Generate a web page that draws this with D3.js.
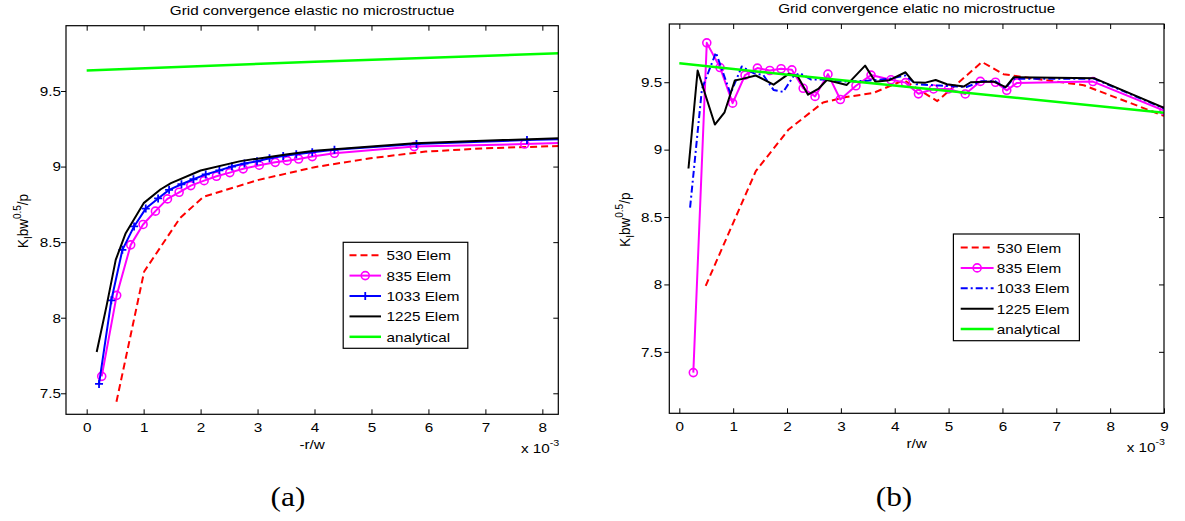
<!DOCTYPE html>
<html><head><meta charset="utf-8">
<script src="https://cdn.jsdelivr.net/npm/d3@7/dist/d3.min.js"></script>
<style>body{margin:0;background:#fff}svg{display:block}</style>
</head><body>
<svg id="c" width="1185" height="521"></svg>
<script>
// ---------- DATA (x in units of 10^-3) ----------
const seriesNames = ["530 Elem", "835 Elem", "1033 Elem", "1225 Elem", "analytical"];
const xTicksA = [0, 1, 2, 3, 4, 5, 6, 7, 8];
const xTicksB = [0, 1, 2, 3, 4, 5, 6, 7, 8, 9];
const yTicks = [7.5, 8, 8.5, 9, 9.5];

// (a) -r/w
const a530X = [0.523, 1.01, 1.64, 2.05, 3.02, 4.0, 4.98, 5.95, 6.93, 8.6];
const a530Y = [7.444, 8.306, 8.66, 8.80, 8.912, 8.996, 9.055, 9.099, 9.12, 9.14];
const a835X = [0.264, 0.527, 0.773, 0.99, 1.207, 1.418, 1.623, 1.828, 2.062, 2.279, 2.513, 2.747, 3.03, 3.31, 3.52, 3.72, 3.96, 4.35, 5.75, 7.69, 8.6];
const a835Y = [7.612, 8.148, 8.482, 8.617, 8.705, 8.786, 8.83, 8.874, 8.907, 8.936, 8.96, 8.985, 9.009, 9.028, 9.039, 9.05, 9.066, 9.088, 9.132, 9.149, 9.16];
const a1033X = [0.217, 0.433, 0.627, 0.832, 1.037, 1.254, 1.447, 1.664, 1.875, 2.09, 2.33, 2.55, 2.77, 2.99, 3.21, 3.45, 3.68, 3.96, 4.35, 5.79, 7.73, 8.6];
const a1033Y = [7.562, 8.115, 8.449, 8.604, 8.722, 8.789, 8.846, 8.883, 8.916, 8.948, 8.975, 9.0, 9.02, 9.035, 9.055, 9.07, 9.082, 9.095, 9.112, 9.149, 9.175, 9.185];
const a1225X = [0.176, 0.35, 0.51, 0.685, 1.0, 1.3, 1.48, 2.0, 2.7, 3.5, 4.0, 5.76, 8.6];
const a1225Y = [7.773, 8.08, 8.383, 8.559, 8.758, 8.85, 8.89, 8.974, 9.036, 9.08, 9.105, 9.155, 9.192];
const aAnaX = [0, 4, 8.6];
const aAnaY = [9.636, 9.693, 9.754];

// (b) r/w
const b530X = [0.49, 1.42, 2.03, 2.67, 3.1, 3.6, 4.17, 4.79, 5.62, 6.02, 6.71, 7.51, 9.0];
const b530Y = [7.99, 8.84, 9.15, 9.35, 9.39, 9.42, 9.515, 9.36, 9.65, 9.56, 9.52, 9.478, 9.25];
const b835X = [0.26, 0.51, 0.756, 0.99, 1.22, 1.45, 1.68, 1.89, 2.09, 2.30, 2.52, 2.76, 2.99, 3.28, 3.56, 3.93, 4.2, 4.44, 4.72, 5.0, 5.31, 5.59, 5.87, 6.08, 6.27, 7.68, 9.0];
const b835Y = [7.346, 9.792, 9.609, 9.345, 9.552, 9.605, 9.587, 9.6, 9.592, 9.455, 9.395, 9.56, 9.372, 9.474, 9.553, 9.518, 9.497, 9.414, 9.45, 9.45, 9.413, 9.506, 9.5, 9.44, 9.495, 9.505, 9.29];
const b1033X = [0.2, 0.42, 0.68, 0.95, 1.16, 1.38, 1.56, 1.75, 1.93, 2.12, 2.24, 2.45, 2.75, 3.05, 3.45, 3.9, 4.2, 4.4, 4.83, 5.33, 5.62, 5.87, 6.05, 6.2, 7.71, 9.0];
const b1033Y = [8.57, 9.45, 9.72, 9.415, 9.617, 9.567, 9.553, 9.443, 9.428, 9.545, 9.567, 9.52, 9.52, 9.505, 9.51, 9.525, 9.55, 9.485, 9.475, 9.465, 9.507, 9.507, 9.455, 9.525, 9.525, 9.305];
const b1225X = [0.17, 0.34, 0.66, 0.84, 1.03, 1.17, 1.42, 1.75, 2.03, 2.2, 2.39, 2.58, 2.74, 3.11, 3.45, 3.64, 3.9, 4.2, 4.35, 4.57, 4.76, 4.97, 5.28, 5.41, 5.84, 6.06, 6.21, 7.7, 9.0];
const b1225Y = [8.86, 9.587, 9.186, 9.277, 9.513, 9.525, 9.55, 9.482, 9.562, 9.543, 9.408, 9.45, 9.517, 9.48, 9.623, 9.503, 9.515, 9.574, 9.5, 9.497, 9.517, 9.485, 9.468, 9.5, 9.505, 9.463, 9.537, 9.53, 9.31];
const bAnaX = [0, 2.24, 9.0];
const bAnaY = [9.64, 9.547, 9.273];

// ---------- DRAWING ----------
const SX = 1.13;
const FONT = "'Liberation Sans', Arial, Helvetica, sans-serif";
const FS = 13.5;
const svg = d3.select("#c");
const defs = svg.append("defs");

function stext(g, x, y, str, size, anchor) {
  return g.append("text")
    .attr("transform", `translate(${x},${y}) scale(${SX},1)`)
    .attr("font-family", FONT).attr("font-size", size)
    .attr("text-anchor", anchor || "start").attr("fill", "#000").text(str);
}

function drawMarker(g, type, cx, cy, color) {
  if (type === "o") {
    g.append("circle").attr("cx", cx).attr("cy", cy).attr("r", 4)
      .attr("fill", "none").attr("stroke", color).attr("stroke-width", 1.6);
  } else if (type === "+") {
    g.append("path").attr("d", `M${cx - 4},${cy}H${cx + 4}M${cx},${cy - 4}V${cy + 4}`)
      .attr("stroke", color).attr("stroke-width", 1.8).attr("fill", "none");
  }
}

function drawChart(cfg) {
  const x = d3.scaleLinear().domain(cfg.xDomain).range([cfg.left, cfg.right]);
  const y = d3.scaleLinear().domain(cfg.yDomain).range([cfg.bottom, cfg.top]);
  const g = svg.append("g");
  const cid = "clip" + cfg.id;
  defs.append("clipPath").attr("id", cid).append("rect")
    .attr("x", cfg.left).attr("y", cfg.top)
    .attr("width", cfg.right - cfg.left).attr("height", cfg.bottom - cfg.top);

  // title
  stext(g, (cfg.left + cfg.right) / 2, cfg.titleY, cfg.title, FS, "middle");

  // series
  const pg = g.append("g").attr("clip-path", `url(#${cid})`);
  const line = d3.line().x(d => x(d[0])).y(d => y(d[1]));
  cfg.series.forEach(s => {
    const pts = s.x.map((v, i) => [v, s.y[i]]);
    pg.append("path").datum(pts).attr("d", line)
      .attr("fill", "none").attr("stroke", s.color).attr("stroke-width", s.width)
      .attr("stroke-linejoin", "round")
      .attr("stroke-dasharray", s.dash || null);
    if (s.marker) pts.forEach(p => drawMarker(pg, s.marker, x(p[0]), y(p[1]), s.color));
  });

  // frame
  g.append("rect").attr("x", cfg.left).attr("y", cfg.top)
    .attr("width", cfg.right - cfg.left).attr("height", cfg.bottom - cfg.top)
    .attr("fill", "none").attr("stroke", "#000").attr("stroke-width", 1.2);

  // bottom axis (inward ticks)
  const ax = g.append("g").attr("transform", `translate(0,${cfg.bottom})`)
    .call(d3.axisBottom(x).tickValues(cfg.xTicks).tickSize(-5).tickSizeOuter(0).tickFormat(d => String(d)));
  ax.select(".domain").remove();
  ax.selectAll(".tick line").attr("stroke", "#000");
  ax.selectAll(".tick text").attr("font-family", FONT).attr("font-size", FS)
    .attr("y", 8).attr("dy", "0.71em").attr("transform", `scale(${SX},1)`).attr("fill", "#000");
  // top axis ticks
  const axt = g.append("g").attr("transform", `translate(0,${cfg.top})`)
    .call(d3.axisBottom(x).tickValues(cfg.xTicks).tickSize(5).tickSizeOuter(0).tickFormat(""));
  axt.select(".domain").remove();
  axt.selectAll(".tick line").attr("stroke", "#000");
  // left axis (outward ticks)
  const ay = g.append("g").attr("transform", `translate(${cfg.left},0)`)
    .call(d3.axisLeft(y).tickValues(yTicks).tickSize(5).tickSizeOuter(0).tickFormat(d => String(d)));
  ay.select(".domain").remove();
  ay.selectAll(".tick line").attr("stroke", "#000");
  ay.selectAll(".tick text").attr("font-family", FONT).attr("font-size", FS)
    .attr("x", -cfg.yLabPad / SX).attr("transform", `scale(${SX},1)`).attr("fill", "#000");
  // right axis ticks (inward)
  const ayr = g.append("g").attr("transform", `translate(${cfg.right},0)`)
    .call(d3.axisLeft(y).tickValues(yTicks).tickSize(5).tickSizeOuter(0).tickFormat(""));
  ayr.select(".domain").remove();
  ayr.selectAll(".tick line").attr("stroke", "#000");

  // x label
  stext(g, (cfg.left + cfg.right) / 2, cfg.bottom + 35, cfg.xLabel, FS, "middle");
  // x 10^-3
  const ex = g.append("text")
    .attr("transform", `translate(${cfg.right + 1},${cfg.bottom + 39}) scale(${SX},1)`)
    .attr("font-family", FONT).attr("font-size", FS).attr("text-anchor", "end");
  ex.append("tspan").text("x 10");
  ex.append("tspan").attr("dy", -7).attr("font-size", 9.5).text("-3");

  // y label
  const yl = g.append("text")
    .attr("transform", `translate(${cfg.yLabX},${(cfg.top + cfg.bottom) / 2 + 1}) scale(${SX},1) rotate(-90)`)
    .attr("font-family", FONT).attr("font-size", FS).attr("text-anchor", "middle");
  yl.append("tspan").text("K");
  yl.append("tspan").attr("dy", 3.5).attr("font-size", 10).text("I");
  yl.append("tspan").attr("dy", -3.5).text("bw");
  yl.append("tspan").attr("dy", -6).attr("font-size", 10).text("0.5");
  yl.append("tspan").attr("dy", 6).text("/p");

  // legend
  const L = cfg.legend;
  g.append("rect").attr("x", L.x).attr("y", L.y).attr("width", L.w).attr("height", L.h)
    .attr("fill", "#fff").attr("stroke", "#000").attr("stroke-width", 1.2);
  cfg.series.forEach((s, i) => {
    const cy = L.firstRow + i * L.rowStep;
    g.append("line").attr("x1", L.lx1).attr("x2", L.lx2).attr("y1", cy).attr("y2", cy)
      .attr("stroke", s.color).attr("stroke-width", s.width).attr("stroke-dasharray", s.dash || null);
    if (s.marker) drawMarker(g, s.marker, (L.lx1 + L.lx2) / 2, cy, s.color);
    stext(g, L.tx, cy + 5, seriesNames[i], FS, "start");
  });

  // panel caption
  g.append("text")
    .attr("transform", `translate(${cfg.capX},506) scale(1.12,1)`)
    .attr("font-family", "'Liberation Serif', 'DejaVu Serif', serif")
    .attr("font-size", 28).attr("text-anchor", "middle").text(cfg.caption);
}

drawChart({
  id: "a", left: 66, right: 558.3, top: 25.7, bottom: 414.3,
  xDomain: [-0.363, 8.28], yDomain: [7.361, 9.932],
  xTicks: xTicksA, yLabPad: 5, yLabX: 28, titleY: 14.5,
  title: "Grid convergence elastic no microstructue", xLabel: "-r/w", caption: "(a)", capX: 288,
  legend: {x: 343.2, y: 242.3, w: 124.6, h: 106, firstRow: 255.2, rowStep: 20.4, lx1: 349.5, lx2: 381, tx: 386.5},
  series: [
    {x: a530X, y: a530Y, color: "#ff0000", width: 2, dash: "7,4"},
    {x: a835X, y: a835Y, color: "#ff00ff", width: 2, marker: "o"},
    {x: a1033X, y: a1033Y, color: "#0000ff", width: 2, marker: "+"},
    {x: a1225X, y: a1225Y, color: "#000000", width: 2},
    {x: aAnaX, y: aAnaY, color: "#00ff00", width: 2.5}
  ]
});

drawChart({
  id: "b", left: 669.3, right: 1164, top: 24, bottom: 413.3,
  xDomain: [-0.186, 9.0], yDomain: [7.044, 9.932],
  xTicks: xTicksB, yLabPad: 7, yLabX: 630, titleY: 12.7,
  title: "Grid convergence elatic no microstructue", xLabel: "r/w", caption: "(b)", capX: 894,
  legend: {x: 953.4, y: 234, w: 126, h: 106.7, firstRow: 247.5, rowStep: 20.4, lx1: 960.7, lx2: 993.6, tx: 996.7},
  series: [
    {x: b530X, y: b530Y, color: "#ff0000", width: 2, dash: "7,4"},
    {x: b835X, y: b835Y, color: "#ff00ff", width: 2, marker: "o"},
    {x: b1033X, y: b1033Y, color: "#0000ff", width: 2, dash: "7,3,2,3"},
    {x: b1225X, y: b1225Y, color: "#000000", width: 2},
    {x: bAnaX, y: bAnaY, color: "#00ff00", width: 2.5}
  ]
});
</script>
</body></html>
